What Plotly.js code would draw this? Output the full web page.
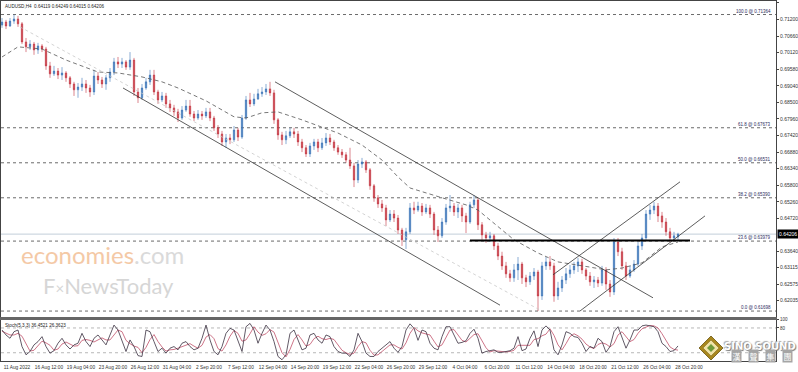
<!DOCTYPE html>
<html><head><meta charset="utf-8">
<script src="https://cdn.plot.ly/plotly-3.0.1.min.js"></script>
<style>html,body{margin:0;padding:0;background:#fff}#chart{width:798px;height:372px}</style>
</head><body><div id="chart"></div>
<script>
// ---- AUDUSD H4 candles (each candle ~ 2 H4 bars) ----
const openP = [
.7102,.7112,.7099,.7115,.7122,.7106,.7047,.7031,.7040,.7021,
.7034,.7024,.6969,.6943,.6952,.6939,.6946,.6930,.6910,.6891,
.6900,.6910,.6897,.6884,.6936,.6923,.6910,.6930,.6949,.6982,
.6975,.6982,.6965,.6988,.6884,.6865,.6897,.6917,.6939,.6884,
.6858,.6871,.6845,.6832,.6819,.6799,.6825,.6838,.6812,.6799,
.6812,.6806,.6819,.6799,.6767,.6747,.6721,.6734,.6728,.6760,
.6737,.6799,.6858,.6845,.6861,.6878,.6884,.6894,.6881,.6793,
.6744,.6728,.6741,.6754,.6747,.6721,.6702,.6682,.6708,.6721,
.6702,.6718,.6734,.6721,.6702,.6688,.6679,.6662,.6643,.6597,
.6649,.6656,.6630,.6578,.6539,.6519,.6506,.6467,.6486,.6473,
.6434,.6402,.6428,.6506,.6499,.6512,.6493,.6506,.6486,.6434,
.6415,.6460,.6506,.6512,.6493,.6506,.6480,.6460,.6516,.6532,
.6451,.6418,.6408,.6415,.6382,.6349,.6317,.6291,.6278,.6304,
.6323,.6278,.6265,.6284,.6297,.6219,.6317,.6330,.6317,.6219,
.6245,.6271,.6291,.6304,.6317,.6330,.6304,.6284,.6265,.6271,
.6261,.6304,.6258,.6232,.6395,.6363,.6317,.6284,.6304,.6323,
.6382,.6408,.6486,.6499,.6512,.6480,.6460,.6428,.6408,.64119];
const highP = [
.7125,.7119,.7125,.7136,.7132,.7112,.7060,.7053,.7047,.7044,
.7040,.7031,.6982,.6969,.6962,.6965,.6952,.6936,.6917,.6913,
.6930,.6923,.6907,.6956,.6949,.6933,.6939,.6962,.6995,.6998,
.6995,.6988,.7014,.6995,.6897,.6910,.6930,.6956,.6956,.6891,
.6884,.6881,.6858,.6842,.6829,.6838,.6858,.6858,.6822,.6825,
.6822,.6832,.6832,.6806,.6776,.6757,.6747,.6747,.6773,.6767,
.6809,.6871,.6881,.6878,.6894,.6900,.6910,.6917,.6891,.6799,
.6754,.6757,.6767,.6767,.6757,.6731,.6711,.6718,.6731,.6731,
.6734,.6750,.6747,.6728,.6711,.6698,.6688,.6702,.6653,.6662,
.6669,.6662,.6636,.6584,.6548,.6532,.6516,.6499,.6499,.6483,
.6441,.6441,.6522,.6526,.6526,.6522,.6519,.6516,.6493,.6447,
.6473,.6519,.6548,.6522,.6519,.6516,.6490,.6526,.6548,.6539,
.6460,.6428,.6428,.6421,.6392,.6363,.6330,.6304,.6323,.6346,
.6330,.6288,.6297,.6310,.6304,.6330,.6346,.6349,.6327,.6265,
.6284,.6310,.6320,.6330,.6343,.6340,.6310,.6297,.6284,.6281,
.6317,.6313,.6271,.6408,.6408,.6376,.6330,.6317,.6336,.6395,
.6421,.6499,.6516,.6526,.6522,.6493,.6473,.6441,.6428,.64249];
const lowP = [
.7093,.7089,.7096,.7106,.7096,.7040,.7014,.7021,.7005,.7008,
.7014,.6956,.6930,.6936,.6926,.6923,.6917,.6897,.6871,.6865,
.6887,.6881,.6868,.6874,.6910,.6897,.6891,.6917,.6939,.6962,
.6962,.6956,.6956,.6871,.6848,.6858,.6891,.6907,.6874,.6845,
.6851,.6832,.6819,.6806,.6786,.6793,.6819,.6803,.6789,.6793,
.6793,.6799,.6789,.6757,.6734,.6708,.6702,.6714,.6721,.6724,
.6731,.6793,.6835,.6838,.6858,.6868,.6874,.6871,.6780,.6728,
.6711,.6714,.6734,.6734,.6708,.6688,.6672,.6672,.6695,.6688,
.6695,.6708,.6711,.6692,.6679,.6669,.6653,.6633,.6574,.6587,
.6636,.6620,.6565,.6526,.6506,.6493,.6447,.6460,.6460,.6421,
.6382,.6372,.6421,.6486,.6493,.6480,.6486,.6473,.6418,.6395,
.6408,.6451,.6493,.6480,.6473,.6460,.6424,.6454,.6506,.6434,
.6402,.6392,.6395,.6369,.6336,.6304,.6278,.6265,.6265,.6271,
.6258,.6248,.6255,.6271,.6170,.6206,.6304,.6304,.6200,.6206,
.6232,.6258,.6278,.6291,.6297,.6291,.6271,.6252,.6245,.6248,
.6252,.6239,.6216,.6222,.6349,.6304,.6271,.6278,.6297,.6317,
.6369,.6402,.6467,.6486,.6460,.6441,.6415,.6395,.6398,.64015];
const closeP = [
.7112,.7099,.7115,.7122,.7106,.7047,.7031,.7040,.7021,.7034,
.7024,.6969,.6943,.6952,.6939,.6946,.6930,.6910,.6891,.6900,
.6910,.6897,.6884,.6936,.6923,.6910,.6930,.6949,.6982,.6975,
.6982,.6965,.6988,.6884,.6865,.6897,.6917,.6939,.6884,.6858,
.6871,.6845,.6832,.6819,.6799,.6825,.6838,.6812,.6799,.6812,
.6806,.6819,.6799,.6767,.6747,.6721,.6734,.6728,.6760,.6737,
.6799,.6858,.6845,.6861,.6878,.6884,.6894,.6881,.6793,.6744,
.6728,.6741,.6754,.6747,.6721,.6702,.6682,.6708,.6721,.6702,
.6718,.6734,.6721,.6702,.6688,.6679,.6662,.6643,.6597,.6649,
.6656,.6630,.6578,.6539,.6519,.6506,.6467,.6486,.6473,.6434,
.6402,.6428,.6506,.6499,.6512,.6493,.6506,.6486,.6434,.6415,
.6460,.6506,.6512,.6493,.6506,.6480,.6460,.6516,.6532,.6451,
.6418,.6408,.6415,.6382,.6349,.6317,.6291,.6278,.6304,.6323,
.6278,.6265,.6284,.6297,.6219,.6317,.6330,.6317,.6219,.6245,
.6271,.6291,.6304,.6317,.6330,.6304,.6284,.6265,.6271,.6261,
.6304,.6258,.6232,.6395,.6363,.6317,.6284,.6304,.6323,.6382,
.6408,.6486,.6499,.6512,.6480,.6460,.6428,.6408,.6415,.64206];

// dashed moving average (read at selected candles)
const maIdx = [0,4,10,16,24,29,35,40,44,51,58,61,65,69,75,84,90,95,99,102,110,116,119,122,128,134,139,147,151,155,160,165,169];
const maVal = [.6998,.7031,.7024,.6988,.6949,.6946,.6933,.6917,.6897,.6855,.6803,.6799,.6816,.6819,.6793,.6750,.6711,.6662,.6607,.6571,.6539,.6516,.6499,.6467,.6402,.6359,.6330,.6313,.6304,.6310,.6327,.6379,.6395];

// Stochastic (5,3,3)
const stochK = [
75,63,55,71,75,35,15,23,39,47, 59,35,19,25,43,55,39,29,39,43,
67,47,35,55,63,51,39,63,87,75, 51,23,51,35,13,11,75,71,47,23,
31,19,31,35,27,43,47,35,27,31, 55,87,51,23,15,35,67,79,75,47,
23,83,91,75,43,67,87,75,47,11, 3,15,67,75,51,27,31,63,67,51,
43,63,59,35,23,19,19,11,27,67, 47,19,11,11,23,31,39,47,31,21,
35,75,90,79,50,75,71,43,31,27, 59,83,83,63,43,45,49,67,77,55,
19,23,25,27,21,21,23,25,31,59, 25,29,55,73,35,75,85,75,27,15,
39,71,67,59,57,43,23,35,31,55, 47,21,35,71,83,59,31,51,75,75,
85,87,85,83,71,43,35,23,25,36.4521];
const stochD = [
72,68,63,63,67,60,42,24,26,36, 48,44,38,26,29,41,46,41,36,37,
50,52,50,46,52,56,51,51,63,75, 71,50,42,36,33,20,33,52,64,47,
34,24,27,28,31,35,39,42,36,31, 38,58,64,54,30,24,39,60,74,67,
48,51,66,83,70,62,66,76,70,44, 20,10,28,52,64,51,36,40,54,60,
54,52,55,52,39,26,20,16,19,35, 47,44,26,14,15,22,31,39,39,33,
29,44,67,81,73,68,65,63,48,34, 39,56,75,76,63,50,46,54,64,66,
50,32,22,25,24,23,22,23,26,38, 38,38,38,52,54,61,65,78,62,39,
27,42,59,66,61,53,41,34,30,40, 44,41,34,42,63,71,58,47,52,67,
78,82,86,85,80,66,50,34,28,26.3623];

const xLabels = ["11 Aug 2022","16 Aug 12:00","19 Aug 04:00","23 Aug 20:00","26 Aug 12:00","31 Aug 04:00","2 Sep 20:00","7 Sep 12:00","12 Sep 04:00","14 Sep 20:00","19 Sep 12:00","22 Sep 04:00","26 Sep 20:00","29 Sep 12:00","4 Oct 04:00","6 Oct 20:00","11 Oct 12:00","14 Oct 04:00","18 Oct 20:00","21 Oct 12:00","26 Oct 04:00","28 Oct 20:00"];
const barsPerLabel = 8;
const priceTicks = [0.71740,0.71200,0.70660,0.70120,0.69580,0.69040,0.68500,0.67960,0.67420,0.66880,0.66340,0.65800,0.65260,0.64720,0.63640,0.63115,0.62575,0.62035,0.61495];
const priceTickText = ["0.71740","0.71200","0.70660","0.70120","0.69580","0.69040","0.68500","0.67960","0.67420","0.66880","0.66340","0.65800","0.65260","0.64720","0.63640","0.63115","0.62575","0.62035","0.61495"];
const fibLevels = [0.71364,0.67673,0.66531,0.65390,0.63979,0.61698];
const fibLabels = ["100.0 @ 0.71364","61.8 @ 0.67673","50.0 @ 0.66531","38.2 @ 0.65390","23.6 @ 0.63979","0.0 @ 0.61698"];
const lastPrice = 0.64206;
const lastPriceText = "0.64206";
const titleText = "AUDUSD,H4  0.64119 0.64249 0.64015 0.64206";
const stochTitle = "Stoch(5,3,3) 36.4521 26.3623";
const supportLevel = 0.6400, supportX = [117, 172];
// drawn trend lines: [start, end] in candle index / price
const downUpperX = [68.25,162.75], downUpperY = [0.6917,0.6213];
const downLowerX = [30.25,124.5],  downLowerY = [0.6897,0.6189];
const lightLineX = [4.5,134.5],    lightLineY = [0.7096,0.6173];
const upLowerX = [144.5,175.75],   upLowerY = [0.6170,0.6480];
const upUpperX = [137.75,169.5],   upUpperY = [0.6288,0.6591];
const stochLevels = [80,20];
const logoChars = ["漢","聲","集","團"];

// ---- drawing ----
const idx = closeP.map((_, i) => i);
const tickIdx = xLabels.map((_, i) => i * barsPerLabel);
const PL = 1, PW = 775, PT = 1, PH = 360;
const px = x => (x - PL) / PW;
const py = y => (PT + PH - y) / PH;
const FONT = 'Liberation Sans, Arial, sans-serif';
const tl = (x, y, col, w, dash) => ({type:'scatter', mode:'lines', x:x, y:y, xaxis:'x', yaxis:'y',
  line:{color:col, width:w, dash:dash||'solid'}, hoverinfo:'skip'});

const traces = [
  {type:'candlestick', x:idx, open:openP, high:highP, low:lowP, close:closeP, xaxis:'x', yaxis:'y',
   increasing:{line:{color:'#3d76b8', width:0.6}, fillcolor:'#3d76b8'},
   decreasing:{line:{color:'#c4343f', width:0.6}, fillcolor:'#c4343f'},
   whiskerwidth:0, hoverinfo:'skip'},
  {type:'scatter', mode:'lines', x:maIdx, y:maVal, xaxis:'x', yaxis:'y', line:{color:'#555', width:0.8, dash:'4px,3px'}, hoverinfo:'skip'},
  tl(lightLineX, lightLineY, '#c8c8c8', 0.8, 'dot'),
  tl(downUpperX, downUpperY, '#333', 0.8),
  tl(downLowerX, downLowerY, '#333', 0.8),
  tl(upLowerX, upLowerY, '#333', 0.8),
  tl(upUpperX, upUpperY, '#333', 0.8),
  {type:'scatter', mode:'lines', x:idx, y:stochD, xaxis:'x2', yaxis:'y2', line:{color:'#c0506a', width:0.8}, hoverinfo:'skip'},
  {type:'scatter', mode:'lines', x:idx, y:stochK, xaxis:'x2', yaxis:'y2', line:{color:'#3a3040', width:0.8}, hoverinfo:'skip'}
];

const shapes = [];
fibLevels.forEach(v => shapes.push({type:'line', xref:'paper', x0:0, x1:1, yref:'y', y0:v, y1:v, line:{color:'#444', width:0.8, dash:'dot'}, layer:'below'}));
shapes.push({type:'line', xref:'paper', x0:0, x1:1, yref:'y', y0:lastPrice, y1:lastPrice, line:{color:'#b4c2d0', width:0.8}, layer:'below'});
shapes.push({type:'line', xref:'x', x0:supportX[0], x1:supportX[1], yref:'y', y0:supportLevel, y1:supportLevel, line:{color:'#000', width:2}});
stochLevels.forEach(v => shapes.push({type:'line', xref:'paper', x0:0, x1:1, yref:'y2', y0:v, y1:v, line:{color:'#999', width:0.7, dash:'dot'}, layer:'below'}));
// panel separator
shapes.push({type:'rect', xref:'paper', yref:'paper', x0:px(0), x1:px(777), y0:py(320), y1:py(317), fillcolor:'#666', line:{width:0}});
// logo diamond
const dpath = (cx, cy, r) => `M ${px(cx)} ${py(cy - r)} L ${px(cx + r)} ${py(cy)} L ${px(cx)} ${py(cy + r)} L ${px(cx - r)} ${py(cy)} Z`;
shapes.push({type:'path', xref:'paper', yref:'paper', path:dpath(711,348,12), fillcolor:'#a8871e', line:{color:'#6b5510', width:0.8}});
shapes.push({type:'path', xref:'paper', yref:'paper', path:dpath(711,348,8), fillcolor:'#f0e3a8', line:{color:'#8a7020', width:0.6}});
shapes.push({type:'path', xref:'paper', yref:'paper', path:dpath(711,348,4), fillcolor:'#6f9a3a', line:{width:0}});

const annotations = [
  {xref:'paper', yref:'paper', x:px(3), y:py(2), xanchor:'left', yanchor:'top', text:titleText, showarrow:false, font:{family:FONT, size:4.6, color:'#222'}},
  {xref:'paper', yref:'paper', x:px(3), y:py(321), xanchor:'left', yanchor:'top', text:stochTitle, showarrow:false, font:{family:FONT, size:4.6, color:'#222'}},
  {xref:'paper', x:1, xanchor:'left', xshift:1, yref:'y', y:lastPrice, yanchor:'middle', text:lastPriceText, showarrow:false, bgcolor:'#000', borderpad:1, font:{family:FONT, size:5, color:'#fff'}},
  {xref:'paper', yref:'paper', x:px(20), y:py(270), xanchor:'left', yanchor:'bottom', showarrow:false, borderpad:0,
   text:'<span style="color:#f4c9a6">economies</span><span style="color:#dadada">.com</span>', font:{family:'Lato, Open Sans, sans-serif', size:24}},
  {xref:'paper', yref:'paper', x:px(42), y:py(271), xanchor:'left', yanchor:'top', showarrow:false, borderpad:0,
   text:'F<span style="font-size:15px">×</span>NewsToday', font:{family:'Lato, Open Sans, sans-serif', size:22, color:'#d6d6d6'}},
  {xref:'paper', yref:'paper', x:px(760), y:py(346), xanchor:'center', yanchor:'middle', showarrow:false, text:'<b>SINO SOUND</b>',
   font:{family:'DejaVu Sans, sans-serif', size:10, color:'#ffffff', shadow:'1px 1px 1px #777, -1px -1px 1px #aaa'}}
];
fibLevels.forEach((v, i) => annotations.push({xref:'paper', x:px(773), xanchor:'right', yref:'y', y:v, yanchor:'bottom', yshift:-1, text:fibLabels[i], showarrow:false, font:{family:FONT, size:4.5, color:'#2c2c60'}}));
logoChars.forEach((c, i) => annotations.push({xref:'paper', yref:'paper', x:px(736 + i * 17), y:py(356), xanchor:'center', yanchor:'middle', showarrow:false, text:c, bgcolor:'#a5a5a5', borderpad:0.5, font:{family:'Noto Sans CJK TC, sans-serif', size:8, color:'#fff'}}));

const layout = {
  width:798, height:372, margin:{l:PL, r:22, t:PT, b:11, pad:0},
  paper_bgcolor:'#fff', plot_bgcolor:'#fff', showlegend:false, boxgap:0.5,
  font:{family:FONT, size:5, color:'#333'},
  xaxis:{domain:[0,1], range:[-0.25,193.5], anchor:'y', showticklabels:false, ticks:'', showgrid:false, zeroline:false,
         showline:true, mirror:true, linecolor:'#444', linewidth:1, rangeslider:{visible:false}, fixedrange:true},
  yaxis:{domain:[(PT+PH-317)/PH,1], range:[0.61504,0.71805], side:'right', anchor:'x', tickvals:priceTicks, ticktext:priceTickText,
         ticks:'outside', ticklen:2, tickwidth:1, tickcolor:'#444', showgrid:false, zeroline:false, showline:true, mirror:true,
         linecolor:'#444', linewidth:1, tickfont:{family:FONT, size:5, color:'#333'}},
  xaxis2:{domain:[0,1], range:[-0.25,193.5], anchor:'y2', tickvals:tickIdx, ticktext:xLabels, ticks:'', showgrid:false, zeroline:false,
          showline:true, mirror:true, linecolor:'#444', linewidth:1, ticklabelshift:15, ticklabelstandoff:1,
          tickfont:{family:FONT, size:4.8, color:'#333'}},
  yaxis2:{domain:[0,(PT+PH-319.7)/PH], range:[0,100], side:'right', anchor:'x2', tickvals:[100,80], ticktext:['100','80'],
          ticks:'outside', ticklen:2, tickcolor:'#444', showgrid:false, zeroline:false, showline:true, mirror:true,
          linecolor:'#444', linewidth:1, tickfont:{family:FONT, size:4.5, color:'#333'}},
  shapes:shapes, annotations:annotations
};
Plotly.newPlot('chart', traces, layout, {staticPlot:true, displayModeBar:false});
</script></body></html>
